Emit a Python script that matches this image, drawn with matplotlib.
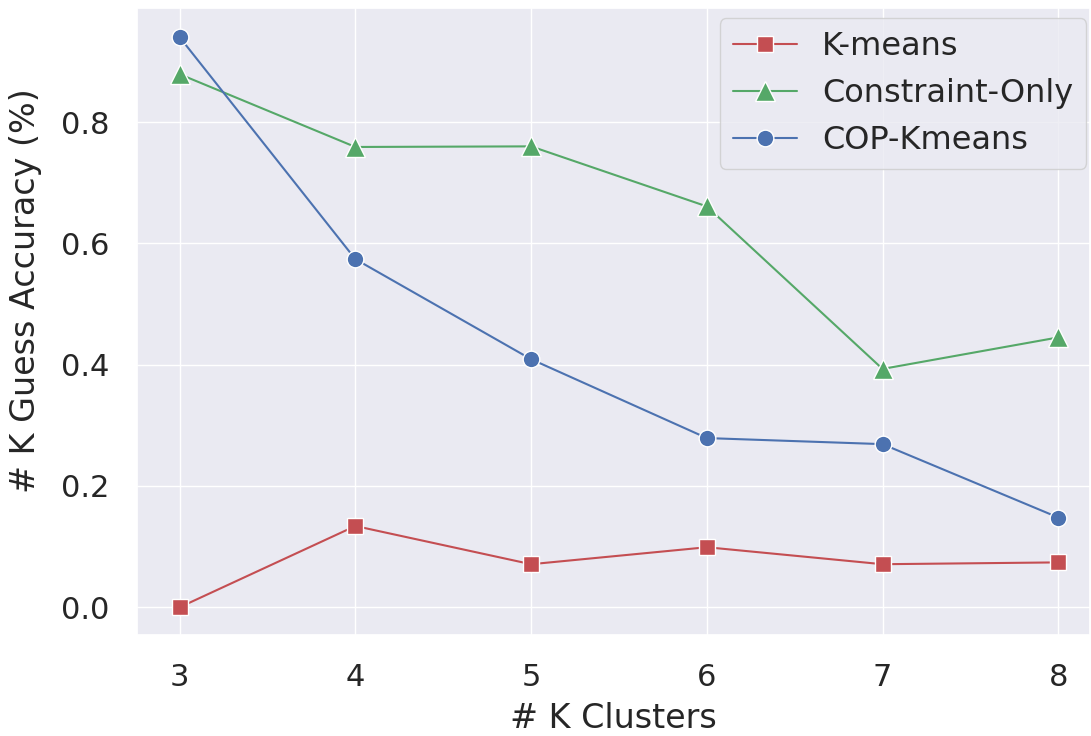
import numpy as np
import matplotlib
matplotlib.use("Agg")
import matplotlib.pyplot as plt
import seaborn as sns

sns.set_theme(style="darkgrid")
sns.set_color_codes("deep")

k_clusters = [3, 4, 5, 6, 7, 8]
kmeans_acc = [0.0, 0.134, 0.071, 0.099, 0.071, 0.074]
constraint_acc = [0.879, 0.759, 0.760, 0.661, 0.393, 0.445]
cop_acc = [0.940, 0.574, 0.409, 0.279, 0.269, 0.148]

fig, ax = plt.subplots(figsize=(10.91, 7.36), dpi=100)

ax.plot(k_clusters, kmeans_acc, color="r", marker="s", markersize=12,
        markeredgecolor="white", label="K-means")
ax.plot(k_clusters, constraint_acc, color="g", marker="^", markersize=15,
        markeredgecolor="white", label="Constraint-Only")
ax.plot(k_clusters, cop_acc, color="b", marker="o", markersize=12,
        markeredgecolor="white", label="COP-Kmeans")

ax.set_xlabel("# K Clusters", fontsize=24, labelpad=7)
ax.set_ylabel("# K Guess Accuracy (%)", fontsize=24)
ax.yaxis.set_label_coords(-0.1, 0.55)
ax.tick_params(labelsize=22, pad=14)
ax.set_xticks(k_clusters)
ax.set_yticks([0.0, 0.2, 0.4, 0.6, 0.8])
ax.set_ylim(-0.046, 0.988)
ax.set_xlim(2.76, 8.18)
ax.legend(fontsize=23, loc="upper right", bbox_to_anchor=(0.996, 0.984),
          borderaxespad=0, facecolor="#eaeaf2", framealpha=0.8)

plt.subplots_adjust(left=0.126, right=0.999, top=0.989, bottom=0.137)
plt.savefig("out.png", dpi=100)
